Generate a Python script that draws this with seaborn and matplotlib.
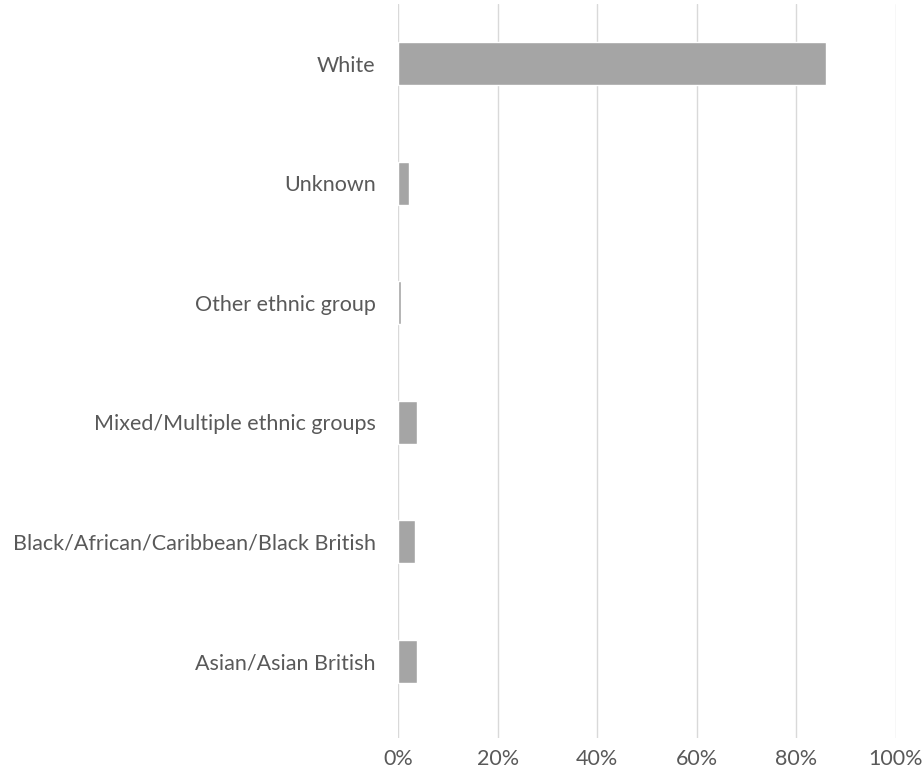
import matplotlib
matplotlib.use("Agg")
import matplotlib.pyplot as plt
import seaborn as sns
import pandas as pd
from matplotlib.ticker import PercentFormatter

# Werte (Anteil)
groups = ["White", "Unknown", "Other ethnic group", "Mixed/Multiple ethnic groups",
          "Black/African/Caribbean/Black British", "Asian/Asian British"]
shares = [0.86, 0.022, 0.006, 0.038, 0.034, 0.038]
x_ticks = [0, 0.2, 0.4, 0.6, 0.8, 1.0]

df = pd.DataFrame({"group": groups, "share": shares})

sns.set_style("white")
plt.rcParams["font.family"] = ["Lato", "DejaVu Sans"]

fig = plt.figure(figsize=(9.24, 7.84), dpi=100)
ax = fig.add_axes([398 / 924, 1 - 738 / 784, (896 - 398) / 924, (738 - 4) / 784])

sns.barplot(data=df, x="share", y="group", orient="h", color="#A5A5A5",
            saturation=1, width=0.36, ax=ax, zorder=3)

ax.set_xlim(0, 1)
ax.set_ylim(5.64, -0.5)
ax.set_xticks(x_ticks)
ax.xaxis.set_major_formatter(PercentFormatter(1.0, decimals=0))
ax.grid(axis="x", color="#D9D9D9", linewidth=1.0, zorder=0)
ax.grid(axis="y", visible=False)
for s in ax.spines.values():
    s.set_visible(False)
ax.tick_params(axis="both", length=0, labelsize=15.5, colors="#595959")
ax.tick_params(axis="y", pad=16)
ax.tick_params(axis="x", pad=8)
ax.set_xlabel("")
ax.set_ylabel("")

plt.savefig("out.png", dpi=100)
